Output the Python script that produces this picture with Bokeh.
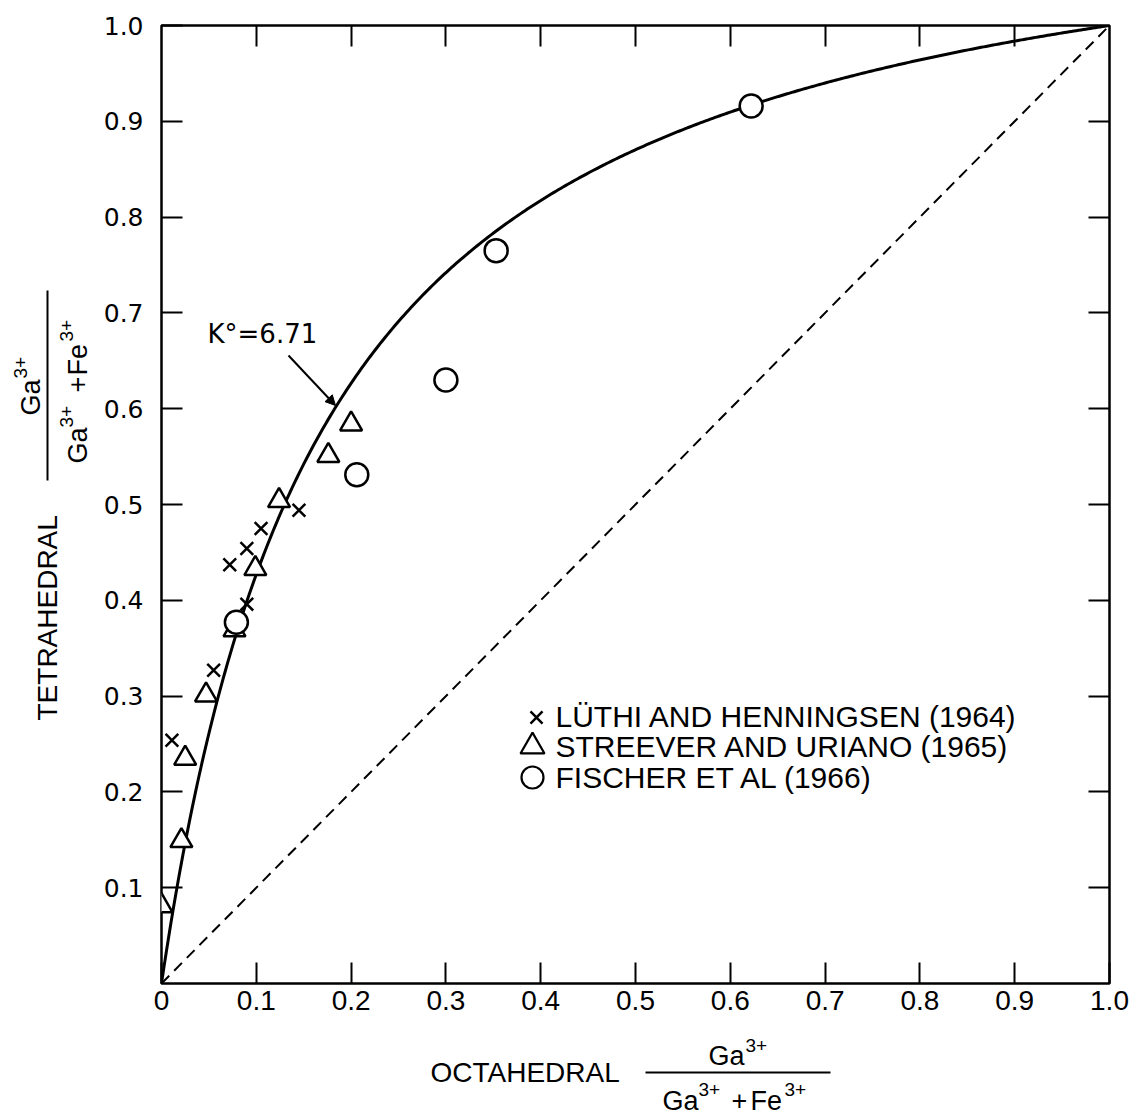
import numpy as np
from bokeh.plotting import figure
from bokeh.layouts import row, column
from bokeh.models import LinearAxis, FixedTicker, Label, Arrow, NormalHead, Range1d
from bokeh.core.properties import value
from bokeh.embed import file_html
from bokeh.resources import INLINE

# ---------------- data ----------------
luthi_x = [0.011, 0.055, 0.072, 0.090, 0.090, 0.105, 0.145]
luthi_y = [0.254, 0.327, 0.437, 0.396, 0.454, 0.475, 0.494]

streever_x = [0.000, 0.021, 0.025, 0.047, 0.077, 0.099, 0.124, 0.176, 0.200]
streever_y = [0.081, 0.149, 0.235, 0.301, 0.369, 0.433, 0.504, 0.551, 0.584]

fischer_x = [0.079, 0.206, 0.300, 0.353, 0.622]
fischer_y = [0.377, 0.531, 0.630, 0.765, 0.916]

K0 = 6.71  # distribution constant printed on the chart

x_ticks = [0.0, 0.1, 0.2, 0.3, 0.4, 0.5, 0.6, 0.7, 0.8, 0.9, 1.0]
x_tick_labels = ["0", "0.1", "0.2", "0.3", "0.4", "0.5", "0.6", "0.7", "0.8", "0.9", "1.0"]
y_ticks = [0.1, 0.2, 0.3, 0.4, 0.5, 0.6, 0.7, 0.8, 0.9, 1.0]
y_tick_labels = ["0.1", "0.2", "0.3", "0.4", "0.5", "0.6", "0.7", "0.8", "0.9", "1.0"]
inner_ticks = [0.1, 0.2, 0.3, 0.4, 0.5, 0.6, 0.7, 0.8, 0.9]

legend_names = ["LÜTHI AND HENNINGSEN (1964)", "STREEVER AND URIANO (1965)", "FISCHER ET AL (1966)"]

# ---------------- layout ----------------
W, H = 1132, 1115
L, R, T, B = 161, 1109, 25, 983      # plot frame in page pixels
YW = 95                               # width of the strip holding the y title
TOP_H = 1028                          # height of the row holding the plot
SANS = "Liberation Sans"
TICKY = "DejaVu Sans"
BL = 0.37                             # baseline correction (fraction of font size)


def dx(px):
    return (px - L) / (R - L)


def dy(py):
    return (B - py) / (B - T)


p = figure(width=W - YW, height=TOP_H, x_range=Range1d(0, 1), y_range=Range1d(0, 1),
           output_backend="svg", toolbar_location=None, title=None,
           min_border_left=L - YW, min_border_right=W - R,
           min_border_top=T, min_border_bottom=TOP_H - B)
p.background_fill_color = "white"
p.border_fill_color = "white"
p.xgrid.visible = False
p.ygrid.visible = False
p.outline_line_color = "black"
p.outline_line_width = 2.5

TICK_LEN = 21

xa = p.xaxis[0]
xa.ticker = FixedTicker(ticks=x_ticks)
xa.major_label_overrides = {t: s for t, s in zip(x_ticks, x_tick_labels)}
xa.major_tick_in = TICK_LEN
xa.major_tick_out = 0
xa.major_tick_line_width = 2
xa.minor_tick_line_color = None
xa.axis_line_color = None
xa.major_label_text_font = SANS
xa.major_label_text_font_size = "28px"
xa.major_label_text_color = "black"
xa.major_label_standoff = 7

ya = p.yaxis[0]
ya.ticker = FixedTicker(ticks=y_ticks)
ya.major_label_overrides = {t: s for t, s in zip(y_ticks, y_tick_labels)}
ya.major_tick_in = TICK_LEN
ya.major_tick_out = 0
ya.major_tick_line_width = 2
ya.minor_tick_line_color = None
ya.axis_line_color = None
ya.major_label_text_font = TICKY
ya.major_label_text_font_size = "25px"
ya.major_label_text_color = "black"
ya.major_label_standoff = 18

for loc in ("above", "right"):
    ax = LinearAxis(ticker=FixedTicker(ticks=inner_ticks),
                    major_label_overrides={t: "" for t in inner_ticks})
    ax.major_tick_in = TICK_LEN
    ax.major_tick_out = 0
    ax.major_tick_line_width = 2
    ax.minor_tick_line_color = None
    ax.axis_line_color = None
    ax.major_label_text_font_size = "1px"
    ax.major_label_standoff = 0
    p.add_layout(ax, loc)

# diagonal (equal distribution)
p.line([0, 1], [0, 1], line_color="black", line_width=2, line_dash="11 7")

# model curve for K° = 6.71
xs = np.linspace(0, 1, 400)
ys = K0 * xs / (1 + (K0 - 1) * xs)
p.line(xs, ys, line_color="black", line_width=3)

# data points
p.scatter(streever_x, streever_y, marker="triangle", size=22, line_color="black",
          line_width=2.5, fill_color="white")
p.scatter(luthi_x, luthi_y, marker="x", size=18, line_color="black", line_width=2.5)
p.scatter(fischer_x, fischer_y, marker="circle", size=23, line_color="black",
          line_width=2.5, fill_color="white")


def mlabel(px, py, text, font, size_px):
    p.add_layout(Label(x=dx(px), y=dy(py - BL * size_px), text=text, text_font=font,
                       text_font_size=f"{size_px}px", text_color="black",
                       text_align="left", text_baseline="alphabetic"))


# K label and arrow
mlabel(207, 343, "K°=6.71", TICKY, 26)
p.add_layout(Arrow(x_start=dx(288), y_start=dy(355), x_end=dx(335), y_end=dy(405),
                   line_width=2, line_color="black",
                   end=NormalHead(size=10, fill_color="black", line_color="black")))

# legend (drawn by hand so the keys keep the data-marker size)
row_base = [727, 757, 788]
row_mid = [717, 746, 777]
p.scatter([dx(536)], [dy(row_mid[0])], marker="x", size=17, line_color="black", line_width=2.5)
p.scatter([dx(532)], [dy(row_mid[1])], marker="triangle", size=24,
          line_color="black", line_width=2.2, fill_color="white")
p.scatter([dx(532)], [dy(row_mid[2])], marker="circle", size=22,
          line_color="black", line_width=2.2, fill_color="white")
for name, base in zip(legend_names, row_base):
    mlabel(555, base, name, SANS, 30)


# ---------------- axis titles (separate strips) ----------------
def strip(w, h, ylo, yhi, btop, bbot):
    f = figure(width=w, height=h, x_range=Range1d(0, w), y_range=Range1d(ylo, yhi),
               output_backend="svg", toolbar_location=None, title=None,
               x_axis_location=None, y_axis_location=None,
               min_border_left=0, min_border_right=0,
               min_border_top=btop, min_border_bottom=bbot)
    f.xgrid.visible = False
    f.ygrid.visible = False
    f.outline_line_color = None
    f.background_fill_color = "white"
    f.border_fill_color = "white"
    return f


# the y strip shares its row with the plot, so its frame lines up with the plot frame
ystrip = strip(YW, TOP_H, TOP_H - B, TOP_H - T, T, TOP_H - B)
xstrip = strip(W, H - TOP_H, 0, H - TOP_H, 0, 0)


def ytxt(px, py, text, size_px):
    # rotated 90° counter-clockwise: px is the baseline, py the start of the text
    ystrip.text(x=[px - BL * size_px], y=[TOP_H - py], text=[text], angle=np.pi / 2,
                text_font=value(SANS), text_font_size=value(f"{size_px}px"),
                text_color="black", text_align="left", text_baseline="alphabetic")


def xtxt(px, py, text, size_px):
    xstrip.text(x=[px], y=[H - (py - BL * size_px)], text=[text],
                text_font=value(SANS), text_font_size=value(f"{size_px}px"),
                text_color="black", text_align="left", text_baseline="alphabetic")


# x title
xtxt(430, 1082, "OCTAHEDRAL", 28)
xstrip.line([645, 830], [H - 1072, H - 1072], line_color="black", line_width=2)
xtxt(708, 1065, "Ga", 27)
xtxt(745, 1052, "3+", 19)
xtxt(662, 1110, "Ga", 27)
xtxt(698, 1096, "3+", 19)
xtxt(731, 1110, "+", 27)
xtxt(750, 1110, "Fe", 27)
xtxt(784, 1096, "3+", 19)

# y title (rotated)
ytxt(57, 720, "TETRAHEDRAL", 28)
ystrip.line([47, 47], [TOP_H - 290, TOP_H - 480], line_color="black", line_width=2)
ytxt(40, 415, "Ga", 27)
ytxt(27, 378, "3+", 19)
ytxt(87, 463, "Ga", 27)
ytxt(73, 427, "3+", 19)
ytxt(87, 392, "+", 27)
ytxt(87, 375, "Fe", 27)
ytxt(73, 341, "3+", 19)

layout = column(row(ystrip, p, spacing=0), xstrip, spacing=0)
open("out.html", "w").write(file_html(layout, INLINE))
